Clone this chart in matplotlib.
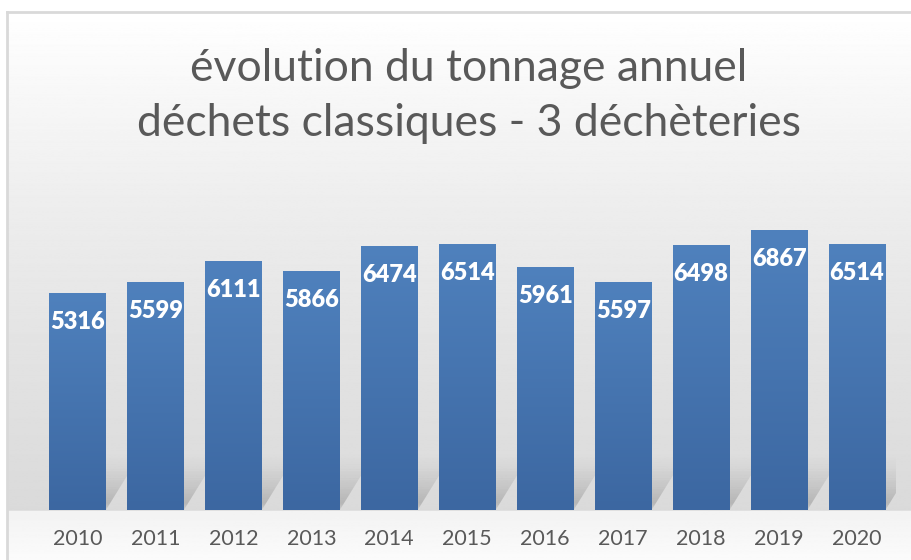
import matplotlib.pyplot as plt
import numpy as np
from matplotlib.colors import LinearSegmentedColormap
from matplotlib.patches import Polygon

years = ['2010', '2011', '2012', '2013', '2014', '2015', '2016', '2017', '2018', '2019', '2020']
tonnage = [5316, 5599, 6111, 5866, 6474, 6514, 5961, 5597, 6498, 6867, 6514]
title = 'évolution du tonnage annuel\ndéchets classiques - 3 déchèteries'

W, H = 912, 560
fig = plt.figure(figsize=(W / 100, H / 100), dpi=100)
fig.patch.set_facecolor('white')

# chart area background: white at top, grey towards the bar base, lighter below
bg = fig.add_axes([7 / W, 0, 1 - 7 / W, (H - 12) / H])
rows = np.linspace(12, H, 600)
grad = np.where(rows < 511,
                np.interp(rows, [12, 190, 350, 510], [1.0, 0.935, 0.89, 0.855]),
                np.interp(rows, [511, 560], [0.95, 0.985]))
bg.imshow(np.tile(grad[:, None], (1, 2)), cmap='gray', vmin=0, vmax=1,
          aspect='auto', extent=[0, 1, 0, 1], origin='upper')
bg.set_xlim(0, 1)
bg.set_ylim(0, 1)
bg.set_xticks([])
bg.set_yticks([])
for s in ['right', 'bottom']:
    bg.spines[s].set_visible(False)
for s in ['top', 'left']:
    bg.spines[s].set_color('#d9d9d9')
    bg.spines[s].set_linewidth(2)

fig.text(0.514, 0.828, title, ha='center', va='center', fontsize=32,
         family='Lato', color='#595959', linespacing=1.42)

ax = fig.add_axes([38.5 / W, (H - 510) / H, (896 - 38.5) / W, 326.4 / H])
ax.set_facecolor('none')
x = np.arange(len(years))
ax.set_xlim(-0.5, len(years) - 0.5)
ax.set_ylim(0, 8000)

bars = ax.bar(x, tonnage, width=0.73, color='#4a7ab5', zorder=3)

# soft skewed shadow behind each bar
for b in bars:
    x0, x1 = b.get_x(), b.get_x() + b.get_width()
    n = 30
    sh, skew = 1300, 0.42
    for i in range(n):
        y0, y1 = sh * i / n, sh * (i + 1) / n
        t = i / n
        a = 0.2 * (1 - t) ** 1.3 * min(1, (t + 0.05) * 6)
        pts = [(x0 + skew * y0 / sh, y0), (x1 + skew * y0 / sh, y0),
               (x1 + skew * y1 / sh, y1), (x0 + skew * y1 / sh, y1)]
        ax.add_patch(Polygon(pts, closed=True, facecolor='black', alpha=a,
                             edgecolor='none', zorder=1))

# vertical gradient on bars
cmap = LinearSegmentedColormap.from_list('bar', ['#3c67a1', '#4f81bd'])
gv = np.linspace(0, 1, 256)[:, None]
for b in bars:
    im = ax.imshow(gv, cmap=cmap, aspect='auto', origin='lower', zorder=4,
                   extent=[b.get_x(), b.get_x() + b.get_width(), 0, b.get_height()])
    im.set_clip_path(b)

for b, v in zip(bars, tonnage):
    ax.annotate(str(v), (b.get_x() + b.get_width() / 2, v), xytext=(0, -21),
                textcoords='offset points', ha='center', va='center',
                fontsize=17, fontweight='heavy', family='Lato', color='white', zorder=5)

ax.set_xticks(x)
ax.set_xticklabels(years, fontsize=15.5, family='Lato', color='#595959')
ax.tick_params(axis='x', length=0, pad=14)
ax.set_yticks([])
for s in ax.spines.values():
    s.set_visible(False)

fig.savefig('out.png', dpi=100)
